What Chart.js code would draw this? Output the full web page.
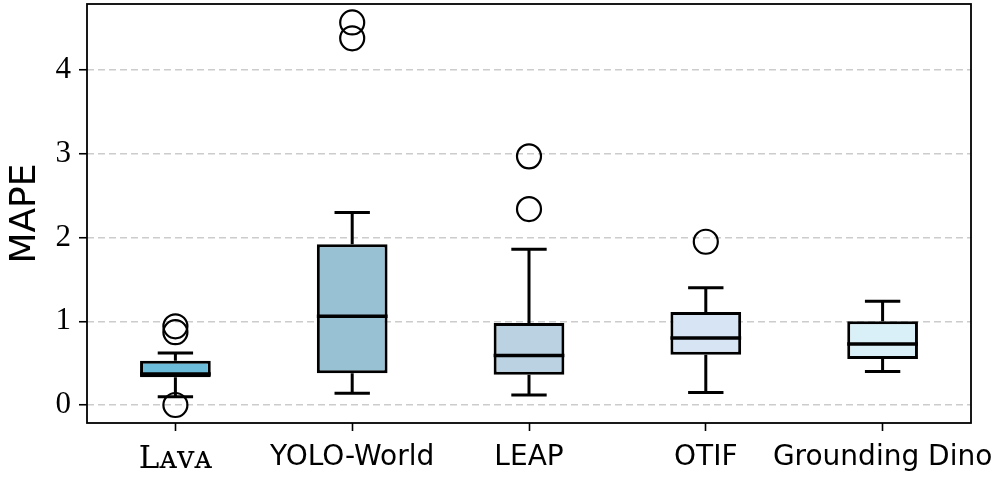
<!DOCTYPE html>
<html><head><meta charset="utf-8">
<script src="https://cdn.jsdelivr.net/npm/chart.js@4"></script>
<style>html,body{margin:0;padding:0;background:#fff}#wrap{width:995px;height:478px}</style>
</head><body><div id="wrap"><canvas id="c" width="995" height="478"></canvas></div>
<script>
const categories = ["L\u1D00\u1D20\u1D00", "YOLO-World", "LEAP", "OTIF", "Grounding Dino"];
const q1 = [0.33, 0.38, 0.36, 0.60, 0.55];
const q3 = [0.53, 1.92, 0.98, 1.11, 1.00];
const medians = [0.37, 1.06, 0.59, 0.80, 0.73];
const whiskerLow = [0.10, 0.14, 0.12, 0.15, 0.40];
const whiskerHigh = [0.62, 2.30, 1.86, 1.40, 1.24];
const outlierCat = [0, 0, 0, 1, 1, 2, 2, 3];
const outlierVal = [0.94, 0.87, 0.00, 4.57, 4.38, 2.97, 2.34, 1.95];
const yTicks = [0, 1, 2, 3, 4];
const boxColors = ["#6bbcd9", "#98c1d4", "#bad2e2", "#d6e4f4", "#d9f0f8"];

const boxPlugin = {
  id: 'boxparts',
  afterDatasetsDraw(chart) {
    const ctx = chart.ctx, xs = chart.scales.x, ys = chart.scales.y;
    const meta = chart.getDatasetMeta(0);
    ctx.save();
    ctx.strokeStyle = '#000';
    ctx.lineCap = 'butt';
    categories.forEach((c, i) => {
      const bar = meta.data[i];
      const w = bar.width;
      const cx = xs.getPixelForValue(i);
      const capHalf = w / 4;
      ctx.lineWidth = 3;
      const yq1 = ys.getPixelForValue(q1[i]), yq3 = ys.getPixelForValue(q3[i]);
      const ylo = ys.getPixelForValue(whiskerLow[i]), yhi = ys.getPixelForValue(whiskerHigh[i]);
      ctx.beginPath();
      ctx.moveTo(cx, yq1); ctx.lineTo(cx, ylo);
      ctx.moveTo(cx, yq3); ctx.lineTo(cx, yhi);
      ctx.moveTo(cx - capHalf, ylo); ctx.lineTo(cx + capHalf, ylo);
      ctx.moveTo(cx - capHalf, yhi); ctx.lineTo(cx + capHalf, yhi);
      ctx.stroke();
      ctx.lineWidth = 3.5;
      const ym = ys.getPixelForValue(medians[i]);
      ctx.beginPath();
      ctx.moveTo(cx - w / 2, ym); ctx.lineTo(cx + w / 2, ym);
      ctx.stroke();
    });
    ctx.restore();
  },
  afterDraw(chart) {
    const a = chart.chartArea, ctx = chart.ctx;
    ctx.save();
    ctx.strokeStyle = '#000';
    ctx.lineWidth = 1.8;
    ctx.strokeRect(a.left, a.top, a.right - a.left, a.bottom - a.top);
    ctx.restore();
  }
};

new Chart(document.getElementById('c'), {
  data: {
    labels: categories,
    datasets: [
      {
        type: 'bar',
        data: categories.map((c, i) => [q1[i], q3[i]]),
        backgroundColor: boxColors,
        borderColor: '#000',
        borderWidth: 3,
        borderSkipped: false,
        categoryPercentage: 1,
        barPercentage: 0.4,
        order: 2
      },
      {
        type: 'line',
        showLine: false,
        clip: false,
        data: outlierCat.map((c, i) => ({x: categories[c], y: outlierVal[i]})),
        pointStyle: 'circle',
        pointRadius: 12,
        pointBackgroundColor: 'rgba(0,0,0,0)',
        pointBorderColor: '#000',
        pointBorderWidth: 2.2,
        order: 1
      }
    ]
  },
  options: {
    responsive: false,
    animation: false,
    devicePixelRatio: 1,
    layout: { autoPadding: false, padding: { top: 4, right: 24, left: 0, bottom: 0 } },
    plugins: { legend: { display: false }, tooltip: { enabled: false } },
    scales: {
      x: {
        type: 'category',
        offset: true,
        grid: { display: true, offset: false, drawOnChartArea: false, drawTicks: true, tickLength: 8, tickColor: '#000', tickWidth: 1.6 },
        border: { display: false },
        ticks: {
          color: '#000', padding: 10, maxRotation: 0, autoSkip: false,
          font: (ctx) => ctx.index === 0
            ? { family: "'DejaVu Serif'", size: 31 }
            : { family: 'DejaVu Sans', size: 28 }
        },
        afterFit(s) { s.height = 55; s.paddingLeft = 0; s.paddingRight = 0; }
      },
      y: {
        min: -0.215,
        max: 4.79,
        afterBuildTicks(s) { s.ticks = yTicks.map(v => ({ value: v })); },
        grid: { color: '#cccccc', lineWidth: 1.5, drawTicks: true, tickLength: 8, tickColor: '#000', tickWidth: 1.6, tickBorderDash: [] },
        border: { display: false, dash: [7, 4] },
        ticks: { color: '#000', padding: 8, font: { family: "'Liberation Serif'", size: 31 } },
        title: { display: true, text: 'MAPE', color: '#000', font: { family: 'DejaVu Sans', size: 36 }, padding: { top: 4, bottom: 0 } },
        afterFit(s) { s.width = 87; s.paddingTop = 0; s.paddingBottom = 0; }
      }
    }
  },
  plugins: [boxPlugin]
});
</script></body></html>
